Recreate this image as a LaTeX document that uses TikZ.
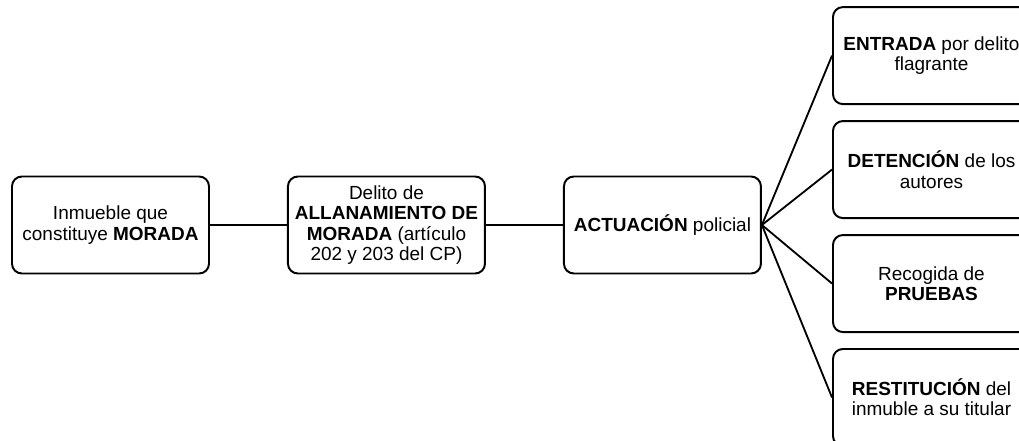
\documentclass[tikz,border=0pt]{standalone}
\usepackage{fontspec}
\setmainfont{Liberation Sans}
\usepackage{tikz}
\usetikzlibrary{positioning}
\tikzset{
  caja/.style ={rectangle,draw,line width=1.4pt,rounded corners=7pt,align=center,inner sep=2pt,minimum width=4.925cm,minimum height=2.425cm},
  rama/.style ={line width=1.3pt},
}

\begin{document}
\begin{tikzpicture}[font=\fontsize{13.5}{14.4}\selectfont,node distance=1.925cm]
  \useasboundingbox (0,0) rectangle (25.475,-11.025);
  \node[caja] (inm) at (2.7625,-5.625)
        {Inmueble que\\constituye \textbf{MORADA}};
  \node[caja,right=of inm] (del)
        {Delito de\\\textbf{ALLANAMIENTO DE}\\\textbf{MORADA} (artículo\\202 y 203 del CP)};
  \node[caja,right=of del] (act)
        {\textbf{ACTUACIÓN} policial};

  % columna derecha
  \node[caja] (ent) at (23.2875,-1.39)
        {\textbf{ENTRADA} por delito\\flagrante};
  \node[caja,below=0.375cm of ent] (det)
        {\textbf{DETENCIÓN} de los\\autores};
  \node[caja,below=0.375cm of det] (rec)
        {Recogida de\\\textbf{PRUEBAS}};
  \node[caja,below=0.375cm of rec] (res)
        {\textbf{RESTITUCIÓN} del\\inmuble a su titular};

  \draw[rama] (inm)--(del);
  \draw[rama] (del)--(act);
  \draw[rama] (act.east)--(ent.west);
  \draw[rama] (act.east)--(det.west);
  \draw[rama] (act.east)--(rec.west);
  \draw[rama] (act.east)--(res.west);
\end{tikzpicture}
\end{document}
